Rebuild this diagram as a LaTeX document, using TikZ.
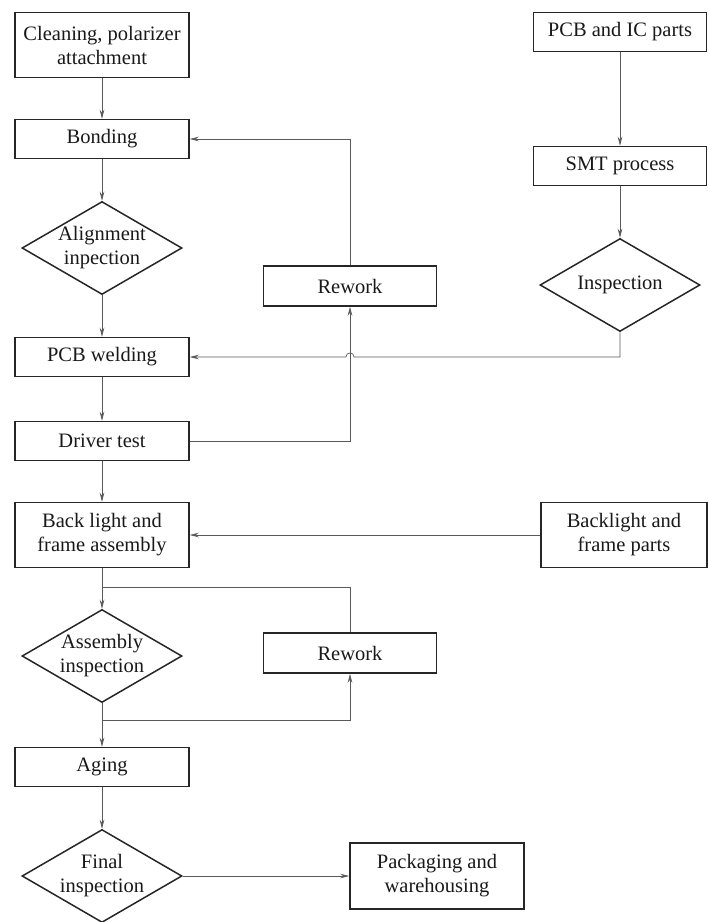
\documentclass[tikz,border=0pt]{standalone}
\usepackage{fontspec}
\setmainfont{Liberation Serif}
\usepackage{tikz}
\usetikzlibrary{shapes.geometric,arrows.meta,positioning,calc}

\begin{document}
\begin{tikzpicture}[
    x=1pt, y=-1pt,
    every node/.style={font=\fontsize{20.5}{24}\selectfont, align=center, text=black!90},
    stepbox/.style={draw=black!85, line width=1.5pt, rectangle, minimum width=174pt, minimum height=39pt, inner sep=0pt},
    tallbox/.style={stepbox, minimum height=65pt},
    check/.style={draw=black!85, line width=1.5pt, diamond, aspect=1.72, minimum width=160pt, minimum height=93pt, inner xsep=-12pt, inner ysep=-8pt},
    flow/.style={draw=black!65, line width=0.7pt, -{Stealth[length=9pt, width=4.5pt]}},
    plain/.style={draw=black!65, line width=0.7pt}
]
\useasboundingbox (0,0) rectangle (708,922);

% main line
\node[tallbox] (clean) at (102,45) {Cleaning, polarizer\\attachment};
\node[stepbox] (bond) at (102,139) {Bonding};
\node[check] (align) at (102,248) {Alignment\\inpection};
\node[stepbox] (weld) at (102,357) {PCB welding};
\node[stepbox] (driver) at (102,441) {Driver test};
\node[tallbox] (blight) at (102,535) {Back light and\\frame assembly};
\node[check] (asminsp) at (102,656) {Assembly\\inspection};
\node[stepbox] (aging) at (102,767) {Aging};
\node[check] (finalinsp) at (102,876) {Final\\inspection};
\node[tallbox, minimum height=66pt] (pack) at (437,876) {Packaging and\\warehousing};

% side branches
\node[stepbox, minimum width=173pt, minimum height=40pt] (rework1) at (350,286) {Rework};
\node[stepbox, minimum width=173pt, minimum height=40pt] (rework2) at (350,653) {Rework};
\node[stepbox, minimum width=173pt] (pcbic) at (620,32) {PCB and IC parts};
\node[stepbox, minimum width=173pt] (smt) at (620,166) {SMT process};
\node[check] (insp) at (620,285) {Inspection};
\node[tallbox, minimum width=166pt] (blparts) at (624,535) {Backlight and\\frame parts};

\coordinate (corner1) at (620,357);
\coordinate (join1) at (102,587);
\coordinate (split2) at (102,720);

\draw[flow] (clean) -- (bond);
\draw[flow] (bond) -- (align);
\draw[flow] (align) -- (weld);
\draw[flow] (weld) -- (driver);
\draw[flow] (driver) -- (blight);
\draw[flow] (blight) -- (asminsp);
\draw[flow] (asminsp) -- (aging);
\draw[flow] (aging) -- (finalinsp);
\draw[flow] (finalinsp.east) -- (pack.west);

\draw[flow] (pcbic) -- (smt);
\draw[flow] (smt) -- (insp);
\draw[flow] (insp.south) -- (corner1) -- (354,357)
    .. controls (354,351.5) and (346,351.5) .. (346,357) -- (weld.east);

\draw[flow] (driver.east) -| (rework1.south);
\draw[flow] (rework1.north) |- (bond.east);
\draw[flow] (blparts.west) -- (blight.east);

\draw[flow] (split2) -| (rework2.south);
\draw[plain] (rework2.north) |- (join1);
\end{tikzpicture}
\end{document}
